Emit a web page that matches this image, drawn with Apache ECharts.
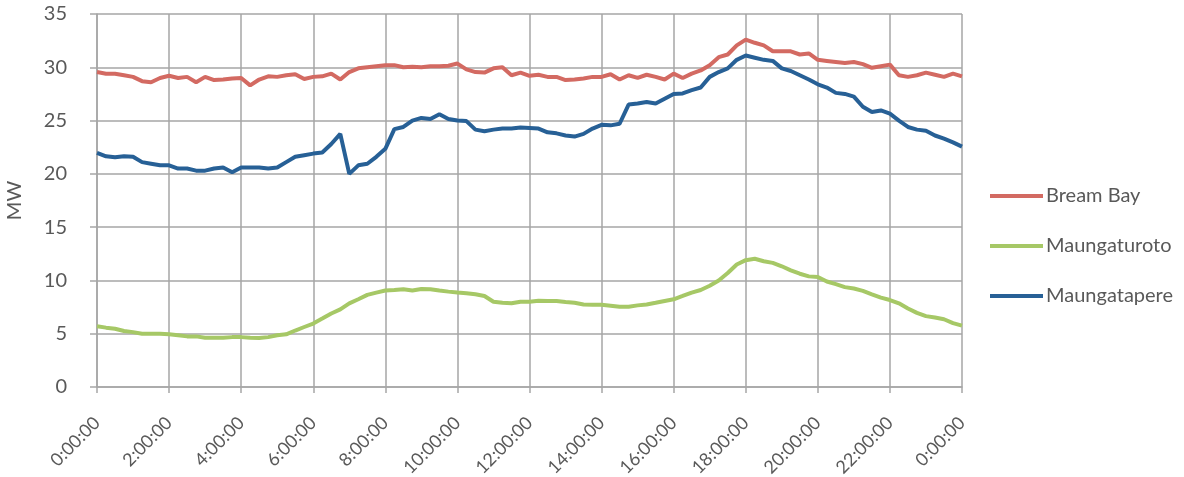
<!DOCTYPE html>
<html lang="en">
<head>
    <meta charset="UTF-8">
    <title>MW by substation</title>
    <script src="https://cdn.jsdelivr.net/npm/echarts@6/dist/echarts.min.js"></script>
</head>
<body style="margin:0">
<div id="chart-container" style="width: 1184px;height: 477px;"></div>
</body>
<script type="text/javascript">
    // 15 minute readings, 0:00 to 24:00
    var breamBay = [
        29.55, 29.4, 29.4, 29.25, 29.1, 28.7, 28.6, 29.0,
        29.2, 29.0, 29.1, 28.6, 29.1, 28.8, 28.85, 28.95,
        29.0, 28.3, 28.85, 29.15, 29.1, 29.25, 29.35, 28.9,
        29.1, 29.15, 29.4, 28.85, 29.55, 29.9, 30.0, 30.1,
        30.2, 30.2, 30.0, 30.05, 30.0, 30.1, 30.1, 30.15,
        30.35, 29.8, 29.55, 29.5, 29.9, 30.0, 29.25, 29.5,
        29.2, 29.3, 29.1, 29.1, 28.8, 28.85, 28.95, 29.1,
        29.1, 29.35, 28.85, 29.25, 29.0, 29.3, 29.1, 28.85,
        29.4, 29.0, 29.4, 29.7, 30.2, 30.95, 31.2, 32.05,
        32.6, 32.3, 32.05, 31.5, 31.5, 31.5, 31.2, 31.3,
        30.7, 30.6, 30.5, 30.4, 30.5, 30.3, 29.95, 30.1,
        30.25, 29.25, 29.1, 29.25, 29.5, 29.3, 29.1, 29.4,
        29.15
    ];
    var maungaturoto = [
        5.7, 5.57, 5.47, 5.25, 5.15, 5.0, 5.0, 5.0,
        4.94, 4.85, 4.75, 4.75, 4.62, 4.62, 4.62, 4.68,
        4.68, 4.62, 4.6, 4.68, 4.85, 4.94, 5.3, 5.63,
        5.95, 6.42, 6.9, 7.28, 7.85, 8.23, 8.64, 8.86,
        9.05, 9.1, 9.18, 9.05, 9.2, 9.18, 9.05, 8.95,
        8.86, 8.8, 8.7, 8.54, 8.0, 7.9, 7.85, 8.0,
        8.0, 8.1, 8.07, 8.07, 7.97, 7.9, 7.75, 7.72,
        7.72, 7.63, 7.53, 7.53, 7.66, 7.75, 7.9, 8.07,
        8.23, 8.54, 8.86, 9.1, 9.5, 10.0, 10.7, 11.5,
        11.9, 12.03, 11.8, 11.65, 11.33, 10.95, 10.63, 10.38,
        10.32, 9.9, 9.65, 9.37, 9.24, 9.02, 8.7, 8.39,
        8.16, 7.85, 7.37, 6.96, 6.65, 6.52, 6.36, 6.0,
        5.76
    ];
    var maungatapere = [
        21.97, 21.65, 21.55, 21.65, 21.6, 21.1, 20.95, 20.8,
        20.8, 20.5, 20.5, 20.3, 20.3, 20.5, 20.6, 20.15,
        20.6, 20.6, 20.6, 20.5, 20.6, 21.1, 21.6, 21.75,
        21.9, 22.0, 22.8, 23.75, 20.0, 20.8, 20.95, 21.6,
        22.35, 24.2, 24.4, 25.0, 25.25, 25.15, 25.6, 25.15,
        25.0, 24.95, 24.15, 24.0, 24.15, 24.25, 24.25, 24.35,
        24.3, 24.25, 23.9, 23.8, 23.6, 23.5, 23.75, 24.25,
        24.6, 24.55, 24.7, 26.5, 26.6, 26.75, 26.6, 27.05,
        27.5, 27.55, 27.85, 28.1, 29.1, 29.55, 29.9, 30.7,
        31.1, 30.9, 30.7, 30.6, 29.9, 29.65, 29.25, 28.85,
        28.4, 28.1, 27.6, 27.5, 27.25, 26.3, 25.8, 25.95,
        25.65, 25.0, 24.4, 24.15, 24.05, 23.6, 23.3, 22.95,
        22.55
    ];

    // time labels every 15 minutes
    var times = [];
    for (var i = 0; i <= 96; i++) {
        var h = Math.floor(i / 4) % 24;
        var m = (i % 4) * 15;
        times.push(h + ':' + (m < 10 ? '0' + m : m) + ':00');
    }

    var gridColor = '#A6A6A6';
    var textColor = '#595959';
    var font = 'Lato';

    var container = document.getElementById('chart-container');
    var myChart = echarts.init(container);

    function line(name, data, color) {
        return {
            name: name,
            type: 'line',
            data: data,
            symbol: 'none',
            smooth: false,
            lineStyle: {color: color, width: 4},
            itemStyle: {color: color}
        };
    }

    var option = {
        animation: false,
        backgroundColor: '#ffffff',
        textStyle: {fontFamily: font},
        grid: {left: 97, right: 222, top: 14, bottom: 90, containLabel: false, outerBoundsMode: 'none'},
        legend: {
            orient: 'vertical',
            left: 985,
            top: 181,
            icon: 'rect',
            itemWidth: 53,
            itemHeight: 4,
            itemGap: 30,
            textStyle: {fontFamily: font, fontSize: 20, color: textColor, padding: [0, 0, 0, -2]},
            data: ['Bream Bay', 'Maungaturoto', 'Maungatapere']
        },
        xAxis: {
            type: 'category',
            data: times,
            boundaryGap: false,
            axisLine: {lineStyle: {color: gridColor, width: 1.5}},
            axisTick: {show: true, interval: 7, length: 6, lineStyle: {color: gridColor, width: 1.5}},
            axisLabel: {
                interval: 7,
                rotate: 45,
                margin: 33,
                fontFamily: font,
                fontSize: 18,
                color: textColor,
                formatter: function (v, idx) { return idx === 96 ? '0:00:00' : v; }
            },
            splitLine: {show: true, interval: 7, lineStyle: {color: gridColor, width: 1.5}}
        },
        yAxis: {
            type: 'value',
            min: 0,
            max: 35,
            interval: 5,
            name: 'MW',
            nameLocation: 'middle',
            nameGap: 72,
            nameTextStyle: {fontFamily: font, fontSize: 20, color: textColor},
            axisLine: {show: true, lineStyle: {color: gridColor, width: 1.5}},
            axisTick: {show: true, length: 7, lineStyle: {color: gridColor, width: 1.5}},
            axisLabel: {fontFamily: font, fontSize: 20, color: textColor, margin: 30},
            splitLine: {show: true, lineStyle: {color: gridColor, width: 1.5}}
        },
        series: [
            line('Bream Bay', breamBay, '#D36A62'),
            line('Maungaturoto', maungaturoto, '#A6C866'),
            line('Maungatapere', maungatapere, '#276096')
        ]
    };

    option && myChart.setOption(option);
</script>
</html>
